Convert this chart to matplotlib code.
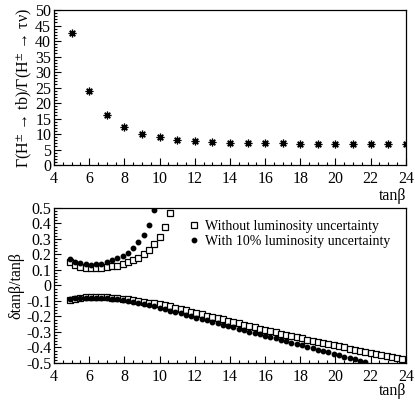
import matplotlib

matplotlib.use("Agg")
import matplotlib.pyplot as plt
from matplotlib.ticker import MultipleLocator, FixedLocator

plt.rcParams["font.family"] = ["Liberation Serif", "DejaVu Serif"]
plt.rcParams["mathtext.fontset"] = "stix"
plt.rcParams["axes.unicode_minus"] = False

# top panel: width ratio vs tan(beta)
TANB_TOP = [5, 6, 7, 8, 9, 10, 11, 12, 13, 14, 15, 16, 17, 18, 19, 20, 21, 22, 23, 24]
RATIO = [42.7, 24.0, 16.0, 12.2, 9.9, 8.9, 8.2, 7.7, 7.4, 7.2,
         7.1, 7.0, 7.0, 6.9, 6.9, 6.9, 6.9, 6.9, 6.9, 6.9]

# bottom panel: relative error on tan(beta)
TANB = [4.9, 5.2, 5.5, 5.8, 6.1, 6.4, 6.7, 7.0, 7.3, 7.6,
        7.9, 8.2, 8.5, 8.8, 9.1, 9.4, 9.7, 10.0, 10.3, 10.6,
        10.9, 11.2, 11.5, 11.8, 12.1, 12.4, 12.7, 13.0, 13.3, 13.6,
        13.9, 14.2, 14.5, 14.8, 15.1, 15.4, 15.7, 16.0, 16.3, 16.6,
        16.9, 17.2, 17.5, 17.8, 18.1, 18.4, 18.7, 19.0, 19.3, 19.6,
        19.9, 20.2, 20.5, 20.8, 21.1, 21.4, 21.7, 22.0, 22.3, 22.6,
        22.9, 23.2, 23.5, 23.8]

UP_NOLUMI = [0.150, 0.132, 0.120, 0.113, 0.113, 0.113, 0.115, 0.120, 0.124, 0.128,
             0.137, 0.150, 0.165, 0.180, 0.203, 0.230, 0.268, 0.313, 0.377, 0.468]
UP_LUMI = [0.169, 0.150, 0.143, 0.137, 0.134, 0.137, 0.139, 0.150, 0.163, 0.175,
           0.190, 0.212, 0.242, 0.280, 0.328, 0.392, 0.489]

LOW_NOLUMI = [-0.094, -0.085, -0.080, -0.077, -0.076, -0.075, -0.075, -0.076, -0.078, -0.081,
              -0.085, -0.089, -0.094, -0.099, -0.104, -0.110, -0.116, -0.122, -0.128, -0.135,
              -0.143, -0.151, -0.160, -0.168, -0.177, -0.185, -0.194, -0.202, -0.211, -0.219,
              -0.228, -0.236, -0.245, -0.253, -0.262, -0.270, -0.279, -0.287, -0.295, -0.303,
              -0.311, -0.319, -0.327, -0.335, -0.342, -0.350, -0.357, -0.365, -0.372, -0.379,
              -0.386, -0.393, -0.400, -0.407, -0.414, -0.421, -0.428, -0.435, -0.442, -0.449,
              -0.456, -0.463, -0.470, -0.477]
LOW_LUMI = [-0.088, -0.083, -0.080, -0.079, -0.078, -0.078, -0.079, -0.081, -0.084, -0.088,
            -0.093, -0.099, -0.105, -0.112, -0.119, -0.127, -0.135, -0.144, -0.153, -0.162,
            -0.171, -0.180, -0.189, -0.198, -0.207, -0.216, -0.225, -0.234, -0.243, -0.252,
            -0.261, -0.270, -0.279, -0.288, -0.297, -0.306, -0.315, -0.324, -0.333, -0.342,
            -0.351, -0.360, -0.369, -0.378, -0.387, -0.396, -0.405, -0.414, -0.423, -0.432,
            -0.441, -0.450, -0.459, -0.468, -0.477, -0.486, -0.495]

LEGEND = ["Without luminosity uncertainty", "With 10% luminosity uncertainty"]

FS = 11.5


def style_axis(ax):
    # ROOT look: ticks only on left/bottom, pointing inward
    ax.tick_params(which="both", direction="in", top=False, right=False,
                   labelsize=FS, width=0.8)
    ax.tick_params(axis="x", pad=4)
    ax.tick_params(axis="y", pad=2)
    ax.tick_params(which="major", length=5)
    ax.tick_params(which="minor", length=2.5)
    for s in ax.spines.values():
        s.set_linewidth(0.9)


fig = plt.figure(figsize=(4.15, 4.01), dpi=100)
ax1 = fig.add_axes([0.130, 0.5885, 0.848, 0.3865])
ax2 = fig.add_axes([0.130, 0.0948, 0.848, 0.3865])

# top
ax1.plot(TANB_TOP, RATIO, linestyle="none", marker=(8, 2, 0), ms=5.5,
         mew=0.9, color="black")
ax1.set_xlim(4, 24)
ax1.set_ylim(0, 50)
ax1.xaxis.set_major_locator(MultipleLocator(2))
ax1.xaxis.set_minor_locator(MultipleLocator(0.5))
ax1.yaxis.set_major_locator(MultipleLocator(5))
ax1.yaxis.set_minor_locator(MultipleLocator(1))
style_axis(ax1)
ax1.set_ylabel(r"Γ(H$^{\pm}$ → tb)/Γ(H$^{\pm}$ → τν)", fontsize=FS, labelpad=1)
ax1.text(1.0, -0.15, "tanβ", transform=ax1.transAxes, ha="right", va="top", fontsize=FS)

# bottom
ax2.plot(TANB[:len(UP_NOLUMI)], UP_NOLUMI, linestyle="none", marker="s", ms=4.5,
         mfc="white", mec="black", mew=0.9, label=LEGEND[0])
ax2.plot(TANB[:len(UP_LUMI)], UP_LUMI, linestyle="none", marker="o", ms=3.2,
         color="black", label=LEGEND[1])
ax2.plot(TANB[:len(LOW_NOLUMI)], LOW_NOLUMI, linestyle="none", marker="s", ms=4.5,
         mfc="white", mec="black", mew=0.9)
ax2.plot(TANB[:len(LOW_LUMI)], LOW_LUMI, linestyle="none", marker="o", ms=3.2,
         color="black")
ax2.set_xlim(4, 24)
ax2.set_ylim(-0.5, 0.5)
ax2.xaxis.set_major_locator(MultipleLocator(2))
ax2.xaxis.set_minor_locator(MultipleLocator(0.5))
ytk = [-0.5, -0.4, -0.3, -0.2, -0.1, 0, 0.1, 0.2, 0.3, 0.4, 0.5]
ax2.yaxis.set_major_locator(FixedLocator(ytk))
ax2.set_yticklabels(["0" if v == 0 else f"{v:.1f}" for v in ytk])
ax2.yaxis.set_minor_locator(MultipleLocator(0.02))
style_axis(ax2)
ax2.set_ylabel("δtanβ/tanβ", fontsize=FS, labelpad=1)
ax2.text(1.0, -0.13, "tanβ", transform=ax2.transAxes, ha="right", va="top", fontsize=FS)
ax2.legend(loc="upper right", bbox_to_anchor=(0.985, 0.985), frameon=False,
           fontsize=10, handlelength=0.6, handletextpad=0.5,
           labelspacing=0.15, borderaxespad=0.3)

fig.savefig("out.png", dpi=100)
